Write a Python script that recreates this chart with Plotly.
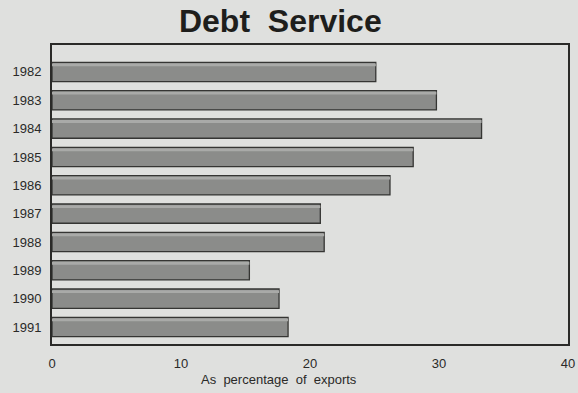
import plotly.graph_objects as go

years = ["1982", "1983", "1984", "1985", "1986", "1987", "1988", "1989", "1990", "1991"]
debt_service = [25.1, 29.8, 33.3, 28.0, 26.2, 20.8, 21.1, 15.3, 17.6, 18.3]
x_ticks = [0, 10, 20, 30, 40]

BG = "#dfe0de"
FONT = "Liberation Sans, Arial, sans-serif"

fig = go.Figure()
fig.add_trace(go.Bar(
    x=debt_service, y=years, orientation="h", width=0.68,
    marker=dict(color="#8b8c8a", line=dict(color="#353533", width=1.3)),
    hoverinfo="x+y",
))
# lighter top strip for the 3-D look
fig.add_trace(go.Bar(
    x=debt_service, y=years, orientation="h", width=0.1, offset=-0.3,
    marker=dict(color="#a9aaa8", line=dict(width=0)),
    hoverinfo="skip",
))

fig.update_layout(
    width=578, height=393,
    margin=dict(l=52, r=10, t=45, b=49, autoexpand=False),
    paper_bgcolor=BG, plot_bgcolor=BG,
    showlegend=False, barmode="overlay",
    title=dict(text="<b>Debt  Service</b>", x=0.485, xanchor="center", y=0.948, yanchor="middle",
               font=dict(family=FONT, size=32, color="#1e1e1c")),
    font=dict(family=FONT, color="#2a2a28"),
    xaxis=dict(range=[0, 40], tickvals=x_ticks, showgrid=False, zeroline=False, automargin=False,
               showline=True, linecolor="#2a2a28", linewidth=2, mirror=True,
               ticks="", tickfont=dict(size=13), ticklabelstandoff=6),
    yaxis=dict(type="category", range=[9.6, -0.95], showgrid=False, zeroline=False, automargin=False,
               showline=True, linecolor="#2a2a28", linewidth=2, mirror=True,
               ticks="", tickfont=dict(size=13), ticklabelstandoff=6),
    annotations=[dict(text="As  percentage  of  exports", xref="paper", yref="paper",
                      x=0.44, y=-0.12, xanchor="center", yanchor="middle", showarrow=False,
                      font=dict(family=FONT, size=13, color="#2a2a28"))],
)

fig.write_html("out.html")
